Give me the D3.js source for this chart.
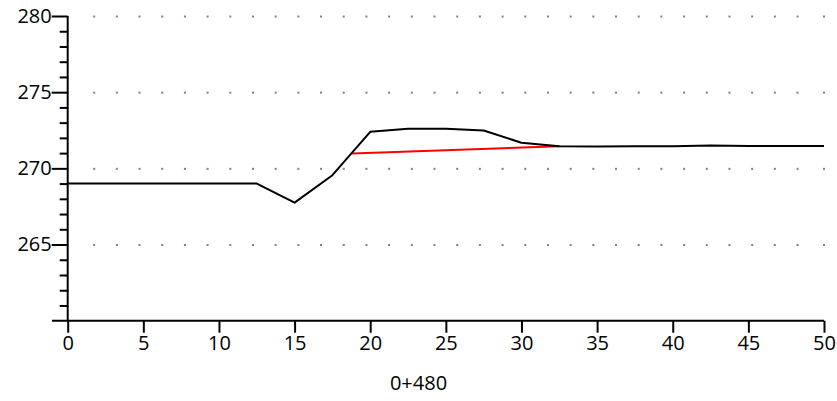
<!DOCTYPE html>
<html>
<head>
<meta charset="utf-8">
<script src="https://cdn.jsdelivr.net/npm/d3@7"></script>
<style>
  html, body { margin: 0; padding: 0; background: #fff; }
  svg { display: block; font-family: "Open Sans", "Noto Sans", sans-serif; }
</style>
</head>
<body>
<svg id="chart" width="837" height="401"></svg>
<script>
// Ground profile (station offset in m, elevation in m)
const groundX = [0, 12.5, 15, 17.5, 20, 22.5, 25, 27.5, 30, 32.5, 35, 37.5, 40, 42.5, 45, 47.5, 50];
const groundY = [269, 269, 267.75, 269.55, 272.4, 272.6, 272.6, 272.48, 271.68, 271.45, 271.43, 271.45, 271.45, 271.5, 271.47, 271.47, 271.47];

// Design line
const designX = [18.8, 32.5];
const designY = [270.97, 271.45];

const xTicks = [0, 5, 10, 15, 20, 25, 30, 35, 40, 45, 50];
const yMajorTicks = [265, 270, 275, 280];
const yMinorTicks = d3.range(261, 280, 1);
const gridDotX = d3.range(1.75, 49, 1.5).concat([50]);
const sectionLabel = "0+480";

const W = 837, H = 401;
const svg = d3.select("#chart");

const x = d3.scaleLinear().domain([0, 50]).range([67.7, 824]);
const y = d3.scaleLinear().domain([260, 280]).range([320.7, 16]);

// dotted grid rows
const gridG = svg.append("g");
yMajorTicks.forEach(v => {
  gridG.selectAll(null).data(gridDotX).enter().append("rect")
    .attr("x", d => x(d) - 1).attr("y", y(v) - 0.5)
    .attr("width", 2).attr("height", 2)
    .attr("fill", "#808080");
});

// y axis: minor ticks
svg.append("g")
  .attr("transform", `translate(${x(0)},0)`)
  .call(d3.axisLeft(y).tickValues(yMinorTicks.filter(v => v % 5 !== 0)).tickSize(8).tickFormat(""))
  .call(g => g.select(".domain").remove())
  .call(g => g.selectAll("line").attr("stroke", "#000").attr("stroke-width", 2));

// y axis: major ticks with labels
const yAxis = svg.append("g")
  .attr("transform", `translate(${x(0)},0)`)
  .call(d3.axisLeft(y).tickValues(yMajorTicks).tickSize(16).tickPadding(0).tickFormat(d3.format("d")));
yAxis.attr("font-size", 20).attr("font-family", "'Open Sans', sans-serif");
yAxis.select(".domain").remove();
yAxis.selectAll("line").attr("stroke", "#000").attr("stroke-width", 2);
yAxis.selectAll("text").attr("fill", "#000").style("font-size", "20px");

// y axis line
svg.append("line")
  .attr("x1", x(0)).attr("x2", x(0))
  .attr("y1", y(280)).attr("y2", y(260))
  .attr("stroke", "#000").attr("stroke-width", 2);

// x axis
const xAxis = svg.append("g")
  .attr("transform", `translate(0,${y(260)})`)
  .call(d3.axisBottom(x).tickValues(xTicks).tickSize(12).tickPadding(3).tickFormat(d3.format("d")));
xAxis.attr("font-size", 20).attr("font-family", "'Open Sans', sans-serif");
xAxis.select(".domain").remove();
xAxis.selectAll("line").attr("stroke", "#000").attr("stroke-width", 2);
xAxis.selectAll("text").attr("fill", "#000").style("font-size", "20px");

svg.append("line")
  .attr("x1", 52).attr("x2", x(50))
  .attr("y1", y(260)).attr("y2", y(260))
  .attr("stroke", "#000").attr("stroke-width", 2);

// profiles
const line = d3.line().x(d => x(d[0])).y(d => y(d[1]));

svg.append("path")
  .datum(designX.map((d, i) => [d, designY[i]]))
  .attr("d", line)
  .attr("fill", "none").attr("stroke", "#ff0000").attr("stroke-width", 2);

svg.append("path")
  .datum(groundX.map((d, i) => [d, groundY[i]]))
  .attr("d", line)
  .attr("fill", "none").attr("stroke", "#000").attr("stroke-width", 2)
  .attr("stroke-linejoin", "round");

// section label
svg.append("text")
  .attr("x", W / 2).attr("y", 390)
  .attr("text-anchor", "middle")
  .style("font-size", "20px")
  .attr("fill", "#000")
  .text(sectionLabel);
</script>
</body>
</html>
